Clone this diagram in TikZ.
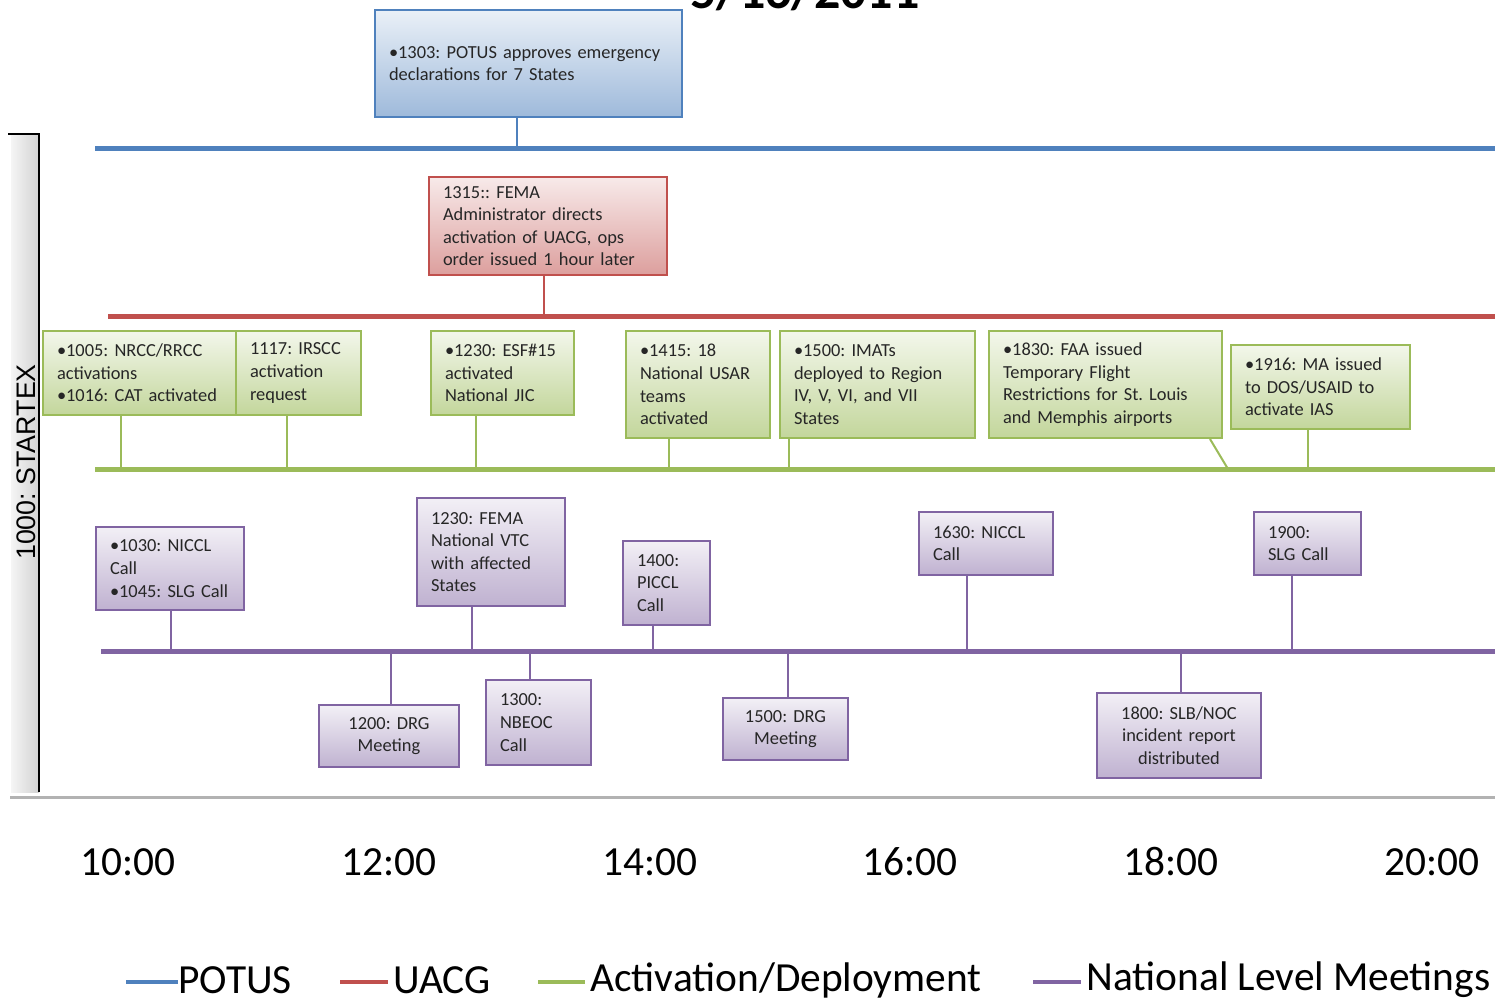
\documentclass[tikz,border=0pt]{standalone}
\usepackage{fontspec}
\setmainfont{Carlito}
\newfontfamily\startexfont{Liberation Sans}
\usetikzlibrary{calc,positioning}
\usepackage{xcolor}
\frenchspacing

\definecolor{potusblue}{HTML}{4F81BD}
\definecolor{uacgred}{HTML}{C0504D}
\definecolor{actgreen}{HTML}{9BBB59}
\definecolor{meetpurple}{HTML}{8064A2}

\tikzset{
  evsize/.code 2 args={%
    \pgfmathsetmacro\evw{#1/2}%
    \pgfmathsetmacro\evh{#2/2}%
    \pgfmathsetmacro\evtw{#1/2-14}%
    \edef\evkeys{\noexpand\pgfkeysalso{minimum width=\evw pt, minimum height=\evh pt, text width=\evtw pt}}%
    \evkeys},
  evbox/.style={rectangle, anchor=north west, line width=1pt, inner xsep=7pt, inner ysep=0pt,
    align=left, text=black!85, font=\fontsize{9.2}{11.3}\selectfont},
  potusbox/.style={evbox, draw=potusblue, top color=potusblue!12, bottom color=potusblue!55!white},
  uacgbox/.style={evbox, draw=uacgred, top color=uacgred!12, bottom color=uacgred!55!white},
  actbox/.style={evbox, draw=actgreen, top color=actgreen!12, bottom color=actgreen!60!white},
  meetbox/.style={evbox, draw=meetpurple, top color=meetpurple!10, bottom color=meetpurple!50!white},
  potusline/.style={potusblue, line width=2.5pt},
  uacgline/.style={uacgred, line width=2.5pt},
  actline/.style={actgreen, line width=2.5pt},
  meetline/.style={meetpurple, line width=2.5pt},
  timelabel/.style={font=\fontsize{20.7}{24}\selectfont},
  legendtext/.style={anchor=west, inner sep=0pt, font=\fontsize{20.7}{24}\selectfont}
}

\begin{document}
\begin{tikzpicture}[x=0.5pt, y=-0.5pt]
    \useasboundingbox (0,0) rectangle (1495,1002);

    % Date heading, cut by the page edge
    \node[anchor=base, font=\bfseries\fontsize{26}{30}\selectfont] (date) at (805,8) {5/16/2011};

    % Side bar
    \fill[left color=gray!8, right color=gray!35] (11,134) rectangle (39,792);
    \draw[line width=1.2pt] (8,134) -- (39,134) -- (39,792);
    \node[rotate=90, font=\startexfont\fontsize{13.4}{15}\selectfont] (startex) at (26,462) {1000: STARTEX};
    \draw[gray!60, line width=1.5pt] (10,797) -- (1495,797);

    % Draw timelines
    \draw[potusline] (95,148) -- (1495,148);
    \draw[uacgline] (108,316) -- (1495,316);
    \draw[actline] (95,469) -- (1495,469);
    \draw[meetline] (101,651) -- (1495,651);

    % POTUS and UACG boxes
    \node[potusbox, evsize={307}{107}] (p1303) at (374,9) {•1303: POTUS approves emergency\\declarations for 7 States};
    \node[uacgbox, evsize={238}{98}] (u1315) at (428,176) {1315:: FEMA\\Administrator directs\\activation of UACG, ops\\order issued 1 hour later};

    % Activation/Deployment boxes
    \node[actbox, evsize={193}{84}] (a1005) at (42,330) {•1005: NRCC/RRCC\\activations\\•1016: CAT activated};
    \node[actbox, evsize={125}{84}] (a1117) at (235,330) {1117: IRSCC\\activation\\request};
    \node[actbox, evsize={143}{84}] (a1230) at (430,330) {•1230: ESF\#15\\activated\\National JIC};
    \node[actbox, evsize={144}{107}] (a1415) at (625,330) {•1415: 18\\National USAR\\teams\\activated};
    \node[actbox, evsize={195}{107}] (a1500) at (779,330) {•1500: IMATs\\deployed to Region\\IV, V, VI, and VII\\States};
    \node[actbox, evsize={233}{107}] (a1830) at (988,330) {•1830: FAA issued\\Temporary Flight\\Restrictions for St. Louis\\and Memphis airports};
    \node[actbox, evsize={179}{84}] (a1916) at (1230,344) {•1916: MA issued\\to DOS/USAID to\\activate IAS};

    % National Level Meetings boxes
    \node[meetbox, evsize={148}{83}] (m1030) at (95,526) {•1030: NICCL\\Call\\•1045: SLG Call};
    \node[meetbox, evsize={148}{108}] (m1230) at (416,497) {1230: FEMA\\National VTC\\with affected\\States};
    \node[meetbox, evsize={87}{84}] (m1400) at (622,540) {1400:\\PICCL\\Call};
    \node[meetbox, evsize={134}{63}] (m1630) at (918,511) {1630: NICCL\\Call};
    \node[meetbox, evsize={107}{63}] (m1900) at (1253,511) {1900:\\SLG Call};
    \node[meetbox, evsize={140}{62}, align=center] (m1200) at (318,704) {1200: DRG\\Meeting};
    \node[meetbox, evsize={105}{85}] (m1300) at (485,679) {1300:\\NBEOC\\Call};
    \node[meetbox, evsize={125}{62}, align=center] (m1500) at (722,697) {1500: DRG\\Meeting};
    \node[meetbox, evsize={164}{85}, align=center] (m1800) at (1096,692) {1800: SLB/NOC\\incident report\\distributed};

    % Draw ticks
    \coordinate (tp1303) at (517,148);
    \draw[potusblue, line width=1pt] (p1303.south -| tp1303) -- (tp1303);
    \coordinate (tu1315) at (544,316);
    \draw[uacgred, line width=1pt] (u1315.south -| tu1315) -- (tu1315);
    \foreach \ev/\x in {a1005/121, a1117/287, a1230/476, a1415/669, a1500/789, a1916/1308} {
      \coordinate (t\ev) at (\x,469);
      \draw[actgreen, line width=1pt] (\ev.south -| t\ev) -- (t\ev);
    }
    \coordinate (ta1830) at (1228,469);
    \draw[actgreen, line width=1pt] ($(a1830.south east)+(-13,0)$) -- (ta1830);
    \foreach \ev/\x in {m1030/171, m1230/472, m1400/653, m1630/967, m1900/1292} {
      \coordinate (t\ev) at (\x,651);
      \draw[meetpurple, line width=1pt] (\ev.south -| t\ev) -- (t\ev);
    }
    \foreach \ev/\x in {m1200/391, m1300/530, m1500/788, m1800/1181} {
      \coordinate (t\ev) at (\x,651);
      \draw[meetpurple, line width=1pt] (t\ev) -- (\ev.north -| t\ev);
    }

    % Time axis
    \foreach \h [count=\i from 0] in {10,12,...,20}
      \node[timelabel] (h\h) at ({128+260.8*\i},862) {\h:00};

    % Legend
    \node[legendtext] (lgpotus) at (178,980) {POTUS};
    \node[legendtext] (lguacg) at (393,980) {UACG};
    \node[legendtext] (lgact) at (590,980) {Activation/Deployment};
    \node[legendtext] (lgmeet) at (1086,980) {National Level Meetings};
    \draw[potusline, line width=2pt] ($(lgpotus.west)+(-52,2)$) -- ($(lgpotus.west)+(0,2)$);
    \draw[uacgline, line width=2pt] ($(lguacg.west)+(-53,2)$) -- ($(lguacg.west)+(-5,2)$);
    \draw[actline, line width=2pt] ($(lgact.west)+(-52,2)$) -- ($(lgact.west)+(-5,2)$);
    \draw[meetline, line width=2pt] ($(lgmeet.west)+(-53,2)$) -- ($(lgmeet.west)+(-5,2)$);
\end{tikzpicture}
\end{document}
